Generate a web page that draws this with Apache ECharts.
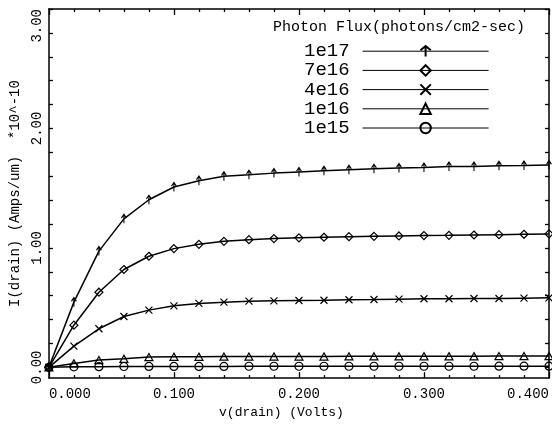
<!DOCTYPE html>
<html><head><meta charset="utf-8">
<script src="https://cdn.jsdelivr.net/npm/echarts@6/dist/echarts.min.js"></script>
<style>html,body{margin:0;padding:0;background:#fff}#c{width:552px;height:424px}</style>
</head><body><div id="c"></div>
<script>
// ---- data ----
const voltages = [0.00, 0.02, 0.04, 0.06, 0.08, 0.10, 0.12, 0.14, 0.16, 0.18, 0.20,
                  0.22, 0.24, 0.26, 0.28, 0.30, 0.32, 0.34, 0.36, 0.38, 0.40];
const fluxLabels = ['1e17', '7e16', '4e16', '1e16', '1e15'];
const current1e17 = [0, 0.546, 0.973, 1.243, 1.403, 1.510, 1.563, 1.599, 1.612, 1.626, 1.635,
                     1.645, 1.654, 1.662, 1.668, 1.673, 1.681, 1.681, 1.687, 1.689, 1.693];
const current7e16 = [0, 0.353, 0.629, 0.819, 0.930, 0.994, 1.030, 1.055, 1.069, 1.078, 1.084,
                     1.089, 1.094, 1.097, 1.100, 1.103, 1.105, 1.108, 1.111, 1.114, 1.117];
const current4e16 = [0, 0.178, 0.323, 0.426, 0.479, 0.515, 0.535, 0.546, 0.554, 0.557, 0.560,
                     0.562, 0.566, 0.568, 0.571, 0.574, 0.574, 0.576, 0.576, 0.579, 0.582];
const current1e16 = [0, 0.033, 0.061, 0.072, 0.086, 0.089, 0.089, 0.090, 0.090, 0.091, 0.091,
                     0.091, 0.092, 0.092, 0.092, 0.093, 0.093, 0.093, 0.094, 0.094, 0.095];
const current1e15 = [0, 0.004, 0.006, 0.007, 0.008, 0.008, 0.008, 0.008, 0.009, 0.009, 0.009,
                     0.009, 0.009, 0.009, 0.009, 0.009, 0.009, 0.009, 0.010, 0.010, 0.010];
const xTickValues = [0.0, 0.1, 0.2, 0.3, 0.4];
const xTickLabels = ['0.000', '0.100', '0.200', '0.300', '0.400'];
const yTickValues = [0, 1, 2, 3];
const yTickLabels = ['0.00', '1.00', '2.00', '3.00'];
const yMinorTickValues = [0, 0.2, 0.4, 0.6, 0.8, 1.0, 1.2, 1.4, 1.6, 1.8, 2.0,
                          2.2, 2.4, 2.6, 2.8, 3.0];
const legendTitle = 'Photon Flux(photons/cm2-sec)';
const xName = 'v(drain) (Volts)';
const yName = 'I(drain) (Amps/um)  *10^-10';

// ---- styling ----
const FONT = "'Liberation Mono', 'DejaVu Sans Mono', monospace";
const INK = '#000';
const symbols = [
  'path://M5 10L5 0M1.5 4L5 0L8.5 4',
  'path://M5 0L10 5L5 10L0 5Z',
  'path://M0 0L10 10M10 0L0 10',
  'path://M5 0L10 9L0 9Z',
  'circle'
];
const symbolSizes = [[7, 9], 8, 7, 8, 8];
const allCurrents = [current1e17, current7e16, current4e16, current1e16, current1e15];

const series = fluxLabels.map((name, k) => ({
  name: name,
  type: 'line',
  data: voltages.map((v, i) => [v, allCurrents[k][i]]),
  symbol: symbols[k],
  symbolSize: symbolSizes[k],
  symbolKeepAspect: true,
  showSymbol: true,
  showAllSymbol: true,
  clip: false,
  lineStyle: { color: INK, width: 1.5 },
  itemStyle: { color: 'rgba(0,0,0,0)', borderColor: INK, borderWidth: 1.2 },
  emphasis: { disabled: true },
  animation: false
}));
// invisible helper series so that the mirrored top / right axes get drawn
series.push({
  name: 'frame', type: 'line', data: [[0, 0]], xAxisIndex: 1, yAxisIndex: 1,
  showSymbol: false, lineStyle: { width: 0, opacity: 0 }, silent: true, animation: false
});

const xBase = {
  type: 'value', min: 0, max: 0.4, interval: 0.1,
  axisLine: { show: true, onZero: false, lineStyle: { color: INK, width: 1.5 } },
  axisTick: { show: true, inside: true, length: 6, lineStyle: { color: INK, width: 1.3 } },
  minorTick: { show: true, splitNumber: 5, length: 3, lineStyle: { color: INK, width: 1.3 } },
  splitLine: { show: false }, minorSplitLine: { show: false }
};
const yBase = {
  type: 'value', min: -0.09, max: 3,
  axisLine: { show: true, onZero: false, lineStyle: { color: INK, width: 1.5 } },
  axisTick: { show: true, inside: true, length: 4, customValues: yMinorTickValues, lineStyle: { color: INK, width: 1.3 } },
  splitLine: { show: false }
};

const chart = echarts.init(document.getElementById('c'), null, { renderer: 'canvas' });
chart.setOption({
  animation: false,
  backgroundColor: '#fff',
  title: {
    text: legendTitle, left: 273, top: 20, padding: 0,
    textStyle: { fontFamily: FONT, fontSize: 15, fontWeight: 'normal', color: INK }
  },
  legend: {
    orient: 'vertical', left: 304, top: 41.7, align: 'right', padding: 0,
    itemWidth: 126, itemHeight: 13, itemGap: 0.2, selectedMode: false,
    data: fluxLabels,
    lineStyle: { width: 1 },
    textStyle: { fontFamily: FONT, fontSize: 19, lineHeight: 18, color: INK, padding: [0, 8, 0, 0] }
  },
  grid: { left: 46, right: 3, top: 9, bottom: 45, containLabel: false },
  xAxis: [
    Object.assign({}, xBase, {
      position: 'bottom',
      axisLabel: {
        show: true, margin: 9, fontFamily: FONT, fontSize: 14, color: INK,
        alignMinLabel: 'left', alignMaxLabel: 'right',
        formatter: (v) => { const i = xTickValues.findIndex(t => Math.abs(t - v) < 1e-9); return i >= 0 ? xTickLabels[i] : ''; }
      },
      name: xName, nameLocation: 'middle', nameGap: 27,
      nameTextStyle: { fontFamily: FONT, fontSize: 13, color: INK, padding: [0, 35, 0, 0] }
    }),
    Object.assign({}, xBase, { position: 'top', axisLabel: { show: false } })
  ],
  yAxis: [
    Object.assign({}, yBase, {
      position: 'left',
      axisLabel: {
        show: true, customValues: yTickValues, rotate: 90, margin: 5,
        fontFamily: FONT, fontSize: 14, color: INK, alignMaxLabel: 'right',
        formatter: (v) => { const i = yTickValues.findIndex(t => Math.abs(t - v) < 1e-9); return i >= 0 ? yTickLabels[i] : ''; }
      },
      name: yName, nameLocation: 'middle', nameGap: 23, nameRotate: 90,
      nameTextStyle: { fontFamily: FONT, fontSize: 14, color: INK }
    }),
    Object.assign({}, yBase, { position: 'right', axisLabel: { show: false } })
  ],
  series: series
});
</script>
</body></html>
